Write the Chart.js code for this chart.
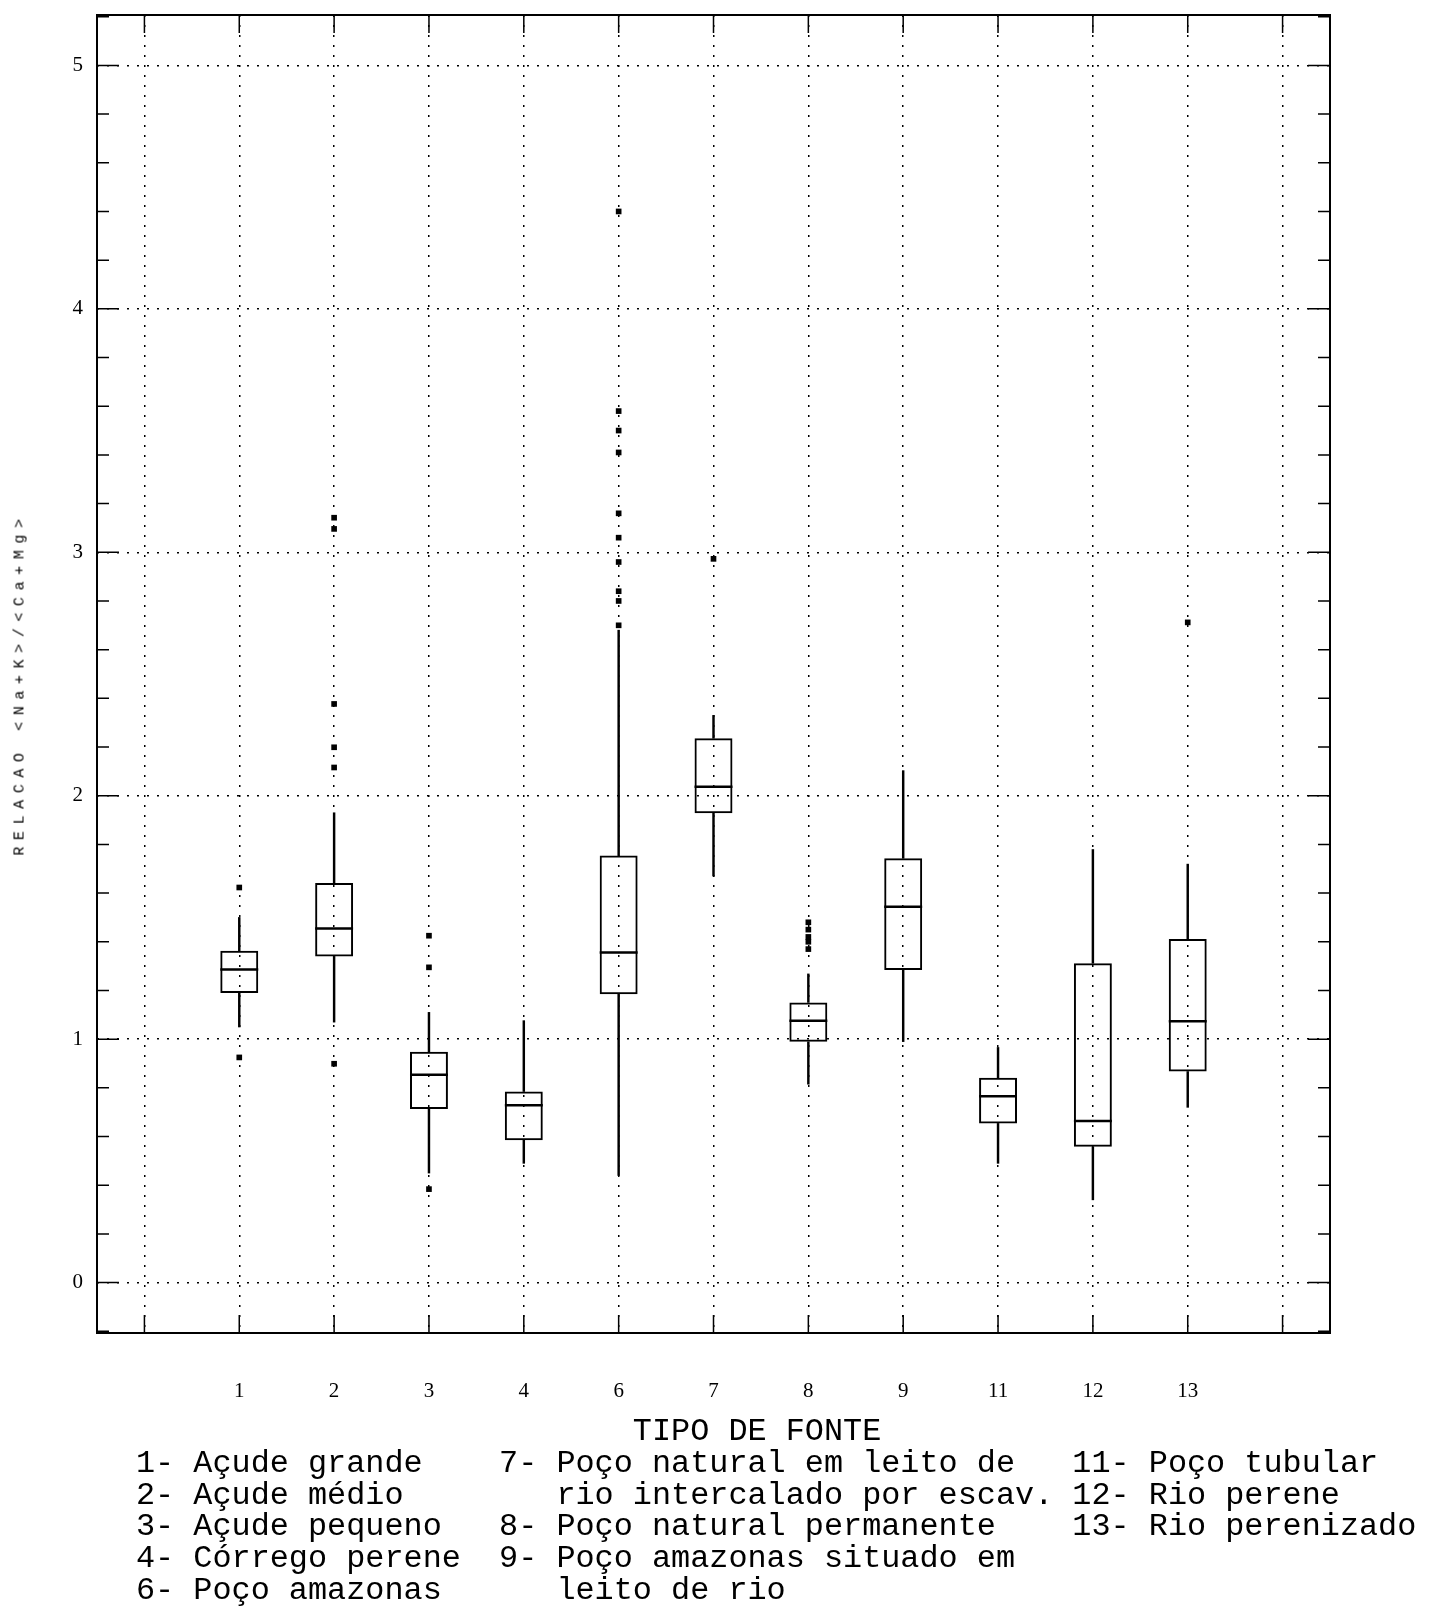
<!DOCTYPE html>
<html>
<head>
<meta charset="utf-8">
<title>Relação (Na+K)/(Ca+Mg) por tipo de fonte</title>
<script src="https://cdn.jsdelivr.net/npm/chart.js@4.4.0/dist/chart.umd.min.js"></script>
<style>
	body { margin: 0; background: #fff; }
	#wrap { position: relative; width: 1436px; height: 1608px; }
	#area { position: absolute; left: 0; top: 0; width: 1436px; height: 1608px; }
	#ytitle {
		position: absolute; left: 20px; top: 684px;
		transform: translate(-50%, -50%) rotate(-90deg);
		font-family: 'Liberation Mono', monospace; font-size: 15px;
		letter-spacing: 6.6px; white-space: nowrap; color: #000;
	}
	#legenda {
		position: absolute; left: 136px; top: 1416px; margin: 0;
		font-family: 'Liberation Mono', monospace; font-size: 31.85px;
		line-height: 31.8px; color: #000;
	}
</style>
</head>
<body>
<div id="wrap">
	<div id="area"><canvas id="boxplot"></canvas></div>
	<div id="ytitle">RELACAO &lt;Na+K&gt;/&lt;Ca+Mg&gt;</div>
<pre id="legenda">                          TIPO DE FONTE
1- Açude grande    7- Poço natural em leito de   11- Poço tubular
2- Açude médio        rio intercalado por escav. 12- Rio perene
3- Açude pequeno   8- Poço natural permanente    13- Rio perenizado
4- Córrego perene  9- Poço amazonas situado em
6- Poço amazonas      leito de rio</pre>
</div>
<script>
const categorias = ['1', '2', '3', '4', '6', '7', '8', '9', '11', '12', '13']
const bigodeInf = [1.05, 1.07, 0.45, 0.49, 0.44, 1.67, 0.815, 0.99, 0.49, 0.34, 0.72]
const quartil1 = [1.19, 1.34, 0.713, 0.585, 1.185, 1.928, 0.989, 1.284, 0.654, 0.558, 0.867]
const mediana = [1.286, 1.455, 0.854, 0.729, 1.356, 2.037, 1.076, 1.544, 0.766, 0.664, 1.074]
const quartil3 = [1.363, 1.641, 0.948, 0.785, 1.754, 2.236, 1.151, 1.743, 0.841, 1.312, 1.411]
const bigodeSup = [1.5, 1.93, 1.11, 1.076, 2.68, 2.33, 1.268, 2.103, 0.966, 1.779, 1.719]
const outliers = [
	[1.623, 0.925],
	[3.142, 3.096, 2.377, 2.199, 2.116, 0.899],
	[1.425, 1.295, 0.384],
	[],
	[4.4, 3.58, 3.5, 3.41, 3.16, 3.06, 2.96, 2.84, 2.8, 2.7],
	[2.973],
	[1.48, 1.45, 1.42, 1.4, 1.37],
	[],
	[],
	[],
	[2.712],
]
const yTicks = [0, 1, 2, 3, 4, 5]
const rotulosX = ['', ...categorias, '']

const caixas = categorias.map((c, i) => ({ x: c, y: [quartil1[i], quartil3[i]] }))
const hasteInf = categorias.map((c, i) => ({ x: c, y: [bigodeInf[i], quartil1[i]] }))
const hasteSup = categorias.map((c, i) => ({ x: c, y: [quartil3[i], bigodeSup[i]] }))
const pontos = []
outliers.forEach((lista, i) => {
	lista.forEach(v => pontos.push({ x: categorias[i], y: v }))
})

// linha da mediana, com a largura da caixa
const medianas = {
	id: 'medianas',
	afterDatasetsDraw(chart) {
		const { ctx, scales: { y } } = chart
		const meta = chart.getDatasetMeta(2)
		ctx.save()
		ctx.strokeStyle = '#000'
		ctx.lineWidth = 2.5
		ctx.beginPath()
		meta.data.forEach((barra, i) => {
			const py = y.getPixelForValue(mediana[i])
			ctx.moveTo(barra.x - barra.width / 2, py)
			ctx.lineTo(barra.x + barra.width / 2, py)
		})
		ctx.stroke()
		ctx.restore()
	},
}

// moldura do gráfico e marcas de escala voltadas para dentro
const moldura = {
	id: 'moldura',
	afterDraw(chart) {
		const { ctx, chartArea: a, scales: { x, y } } = chart
		ctx.save()
		ctx.strokeStyle = '#000'
		ctx.lineWidth = 2
		ctx.strokeRect(a.left, a.top, a.right - a.left, a.bottom - a.top)
		ctx.lineWidth = 1.5
		ctx.beginPath()
		for (let k = -1; k <= 26; k++) {
			const py = y.getPixelForValue(k / 5)
			if (py < a.top || py > a.bottom) continue
			const len = k % 5 === 0 ? 22 : 12
			ctx.moveTo(a.left, py)
			ctx.lineTo(a.left + len, py)
			ctx.moveTo(a.right, py)
			ctx.lineTo(a.right - len, py)
		}
		x.ticks.forEach((t, i) => {
			const px = x.getPixelForTick(i)
			ctx.moveTo(px, a.top)
			ctx.lineTo(px, a.top + 18)
			ctx.moveTo(px, a.bottom)
			ctx.lineTo(px, a.bottom - 18)
		})
		ctx.stroke()
		ctx.restore()
	},
}

const fonteEixo = { family: "'Liberation Serif', serif", size: 21 }

new Chart(document.getElementById('boxplot'), {
	type: 'bar',
	data: {
		labels: rotulosX,
		datasets: [
			{
				label: 'Haste inferior',
				data: hasteInf,
				backgroundColor: '#000',
				borderWidth: 0,
				barThickness: 1.8,
				grouped: false,
			},
			{
				label: 'Haste superior',
				data: hasteSup,
				backgroundColor: '#000',
				borderWidth: 0,
				barThickness: 1.8,
				grouped: false,
			},
			{
				label: 'Caixa',
				data: caixas,
				backgroundColor: 'rgba(0, 0, 0, 0)',
				borderColor: '#000',
				borderWidth: 2,
				borderSkipped: false,
				categoryPercentage: 1,
				barPercentage: 0.4,
				grouped: false,
			},
			{
				type: 'line',
				label: 'Valores extremos',
				data: pontos,
				showLine: false,
				pointStyle: 'rect',
				pointRadius: 4,
				pointHoverRadius: 4,
				pointBorderWidth: 0,
				pointBackgroundColor: '#000',
			},
		],
	},
	options: {
		responsive: true,
		maintainAspectRatio: false,
		animation: false,
		layout: { padding: { left: 0, top: 15, right: 106, bottom: 0 } },
		plugins: {
			legend: { display: false },
			tooltip: { enabled: false },
		},
		scales: {
			x: {
				type: 'category',
				offset: true,
				grid: { offset: false, color: '#000', lineWidth: 1.5, drawTicks: false },
				border: { display: false, dash: [2, 8] },
				ticks: { color: '#000', padding: 46, font: fonteEixo, maxRotation: 0, autoSkip: false },
				afterFit(scale) {
					scale.height = 275
				},
			},
			y: {
				min: -0.207,
				max: 5.207,
				afterBuildTicks(scale) {
					scale.ticks = yTicks.map(v => ({ value: v }))
				},
				grid: { color: '#000', lineWidth: 1.5, drawTicks: false },
				border: { display: false, dash: [2, 8] },
				ticks: { color: '#000', padding: 14, font: { ...fonteEixo, lineHeight: 0.01 } },
				afterFit(scale) {
					scale.width = 97
				},
			},
		},
	},
	plugins: [medianas, moldura],
})
</script>
</body>
</html>
